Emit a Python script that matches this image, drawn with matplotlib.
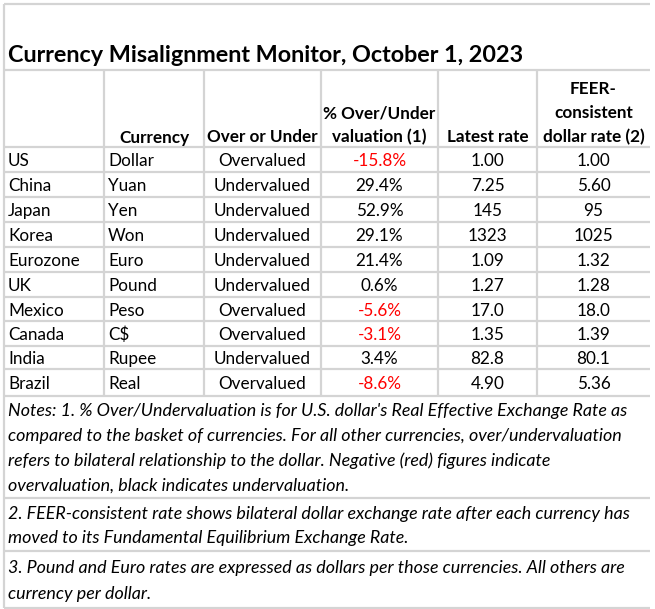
import matplotlib
matplotlib.use("Agg")
import matplotlib.pyplot as plt

# table contents
title = "Currency Misalignment Monitor, October 1, 2023"
headers = [
    [""],
    ["Currency"],
    ["Over or Under"],
    ["% Over/Under", "valuation (1)"],
    ["Latest rate"],
    ["FEER-", "consistent", "dollar rate (2)"],
]
countries = ["US", "China", "Japan", "Korea", "Eurozone", "UK",
             "Mexico", "Canada", "India", "Brazil"]
currencies = ["Dollar", "Yuan", "Yen", "Won", "Euro", "Pound",
              "Peso", "C$", "Rupee", "Real"]
over_under = ["Overvalued", "Undervalued", "Undervalued", "Undervalued",
              "Undervalued", "Undervalued", "Overvalued", "Overvalued",
              "Undervalued", "Overvalued"]
pct_misalign = [-15.8, 29.4, 52.9, 29.1, 21.4, 0.6, -5.6, -3.1, 3.4, -8.6]
latest_rate = ["1.00", "7.25", "145", "1323", "1.09", "1.27",
               "17.0", "1.35", "82.8", "4.90"]
feer_rate = ["1.00", "5.60", "95", "1025", "1.32", "1.28",
             "18.0", "1.39", "80.1", "5.36"]
notes = [
    ["Notes: 1. % Over/Undervaluation is for U.S. dollar's Real Effective Exchange Rate as",
     "compared to the basket of currencies. For all other currencies, over/undervaluation",
     "refers to bilateral relationship to the dollar. Negative (red) figures indicate",
     "overvaluation, black indicates undervaluation."],
    ["2. FEER-consistent rate shows bilateral dollar exchange rate after each currency has",
     "moved to its Fundamental Equilibrium Exchange Rate."],
    ["3. Pound and Euro rates are expressed as dollars per those currencies. All others are",
     "currency per dollar."],
]

# layout in pixels
W, H = 655, 609
col_edges = [4, 104, 204, 321, 438, 537, 650]
row_edges = [147, 172, 197, 222, 247, 272, 297, 321, 346, 369, 396]
note_edges = [396, 498, 551, 608]
grid = "#d4d4d4"
fam = ["Lato", "DejaVu Sans"]
fs = 12.3
fs_note = 12.9
dy = 1.5  # nudge text down a bit, Lato sits high with va=center

fig = plt.figure(figsize=(W / 100, H / 100), dpi=100)
ax = fig.add_axes([0, 0, 1, 1])
ax.set_xlim(0, W)
ax.set_ylim(H, 0)
ax.axis("off")

# grid lines
lw = 1.6
ax.hlines([4, 70] + row_edges + note_edges[1:], col_edges[0], col_edges[-1],
          color=grid, lw=lw)
ax.vlines(col_edges[0], 4, note_edges[-1], color=grid, lw=lw)
ax.vlines(col_edges[1:-1], 70, row_edges[-1], color=grid, lw=lw)

ax.text(8, 56, title, fontsize=16.8, fontweight="bold", family=fam,
        va="center", ha="left")

# header
centers = [(a + b) / 2 for a, b in zip(col_edges[:-1], col_edges[1:])]
for cx, lines in zip(centers, headers):
    for k, line in enumerate(reversed(lines)):
        ax.text(cx, 136 + dy - 24 * k, line, fontsize=fs, fontweight="bold",
                family=fam, ha="center", va="center")

# body
for i in range(len(countries)):
    y = (row_edges[i] + row_edges[i + 1]) / 2 + dy
    ax.text(8, y, countries[i], fontsize=fs, family=fam, va="center")
    ax.text(108, y, currencies[i], fontsize=fs, family=fam, va="center")
    ax.text(centers[2], y, over_under[i], fontsize=fs, family=fam,
            ha="center", va="center")
    p = pct_misalign[i]
    ax.text(centers[3], y, f"{p:.1f}%", fontsize=fs, family=fam,
            ha="center", va="center", color="red" if p < 0 else "black")
    ax.text(centers[4], y, latest_rate[i], fontsize=fs, family=fam,
            ha="center", va="center")
    ax.text(centers[5], y, feer_rate[i], fontsize=fs, family=fam,
            ha="center", va="center")

# notes
for j, block in enumerate(notes):
    mid = (note_edges[j] + note_edges[j + 1]) / 2 + dy
    top = mid - 12.5 * (len(block) - 1)
    for k, line in enumerate(block):
        ax.text(8, top + 25 * k, line, fontsize=fs_note, style="italic",
                family=fam, va="center")

fig.savefig("out.png", dpi=100)
